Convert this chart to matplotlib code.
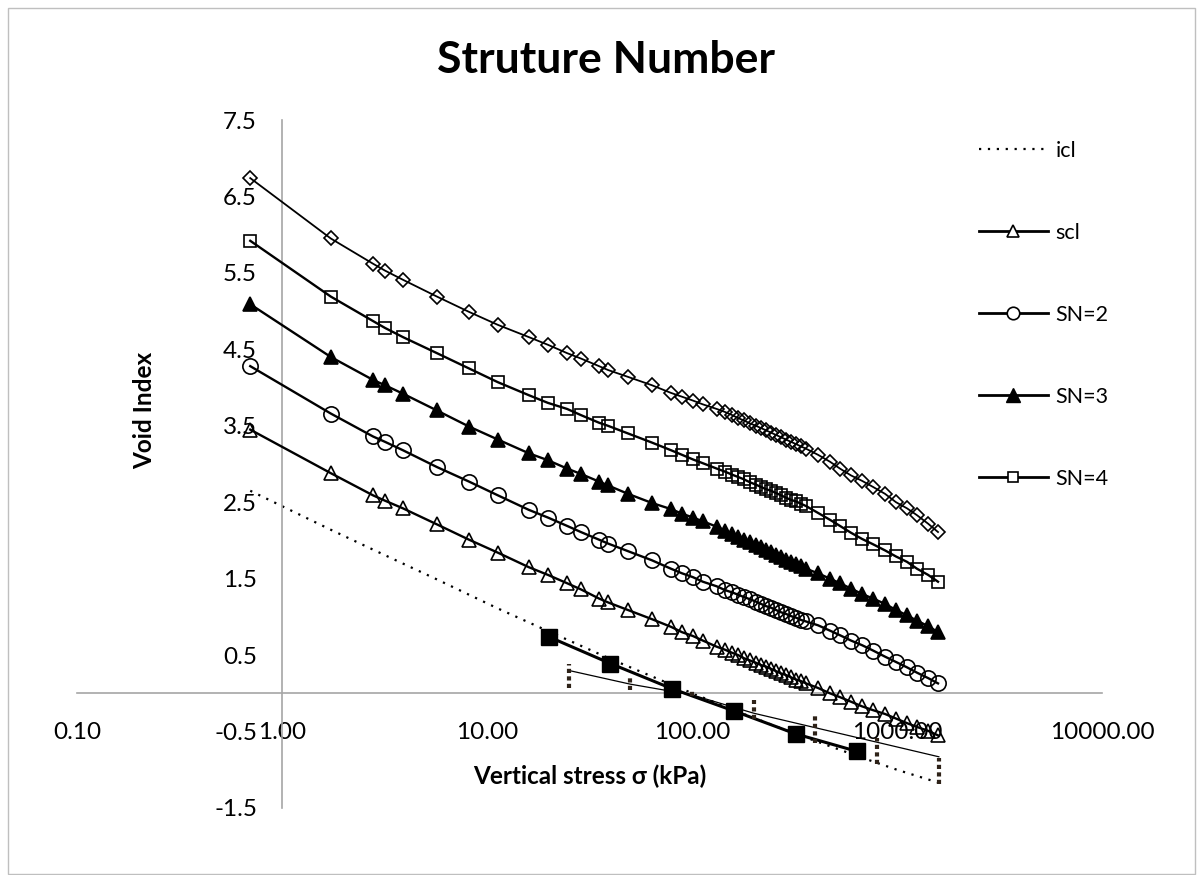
import matplotlib
matplotlib.use("Agg")
import matplotlib.pyplot as plt
from matplotlib.lines import Line2D
from matplotlib.patches import Rectangle
from matplotlib.ticker import FixedLocator, FixedFormatter

plt.rcParams['font.family'] = ['Lato', 'DejaVu Sans']

# ---------------- data ----------------
stress = [0.70, 1.73, 2.78, 3.18, 3.89, 5.70, 8.17, 11.3, 16.0, 19.8,
          24.6, 28.7, 35.2, 38.9, 48.7, 63.8, 79.0, 89.4, 101, 113,
          132, 145, 157, 168, 179, 192, 205, 217, 230, 243,
          257, 272, 287, 304, 322, 340, 360,
          412, 471, 527, 597, 675, 764, 874, 989, 1119, 1252, 1417, 1585]

sn5 = [6.74, 5.95, 5.62, 5.53, 5.41, 5.19, 4.99, 4.82, 4.66, 4.56,
       4.45, 4.38, 4.28, 4.23, 4.14, 4.03, 3.93, 3.88, 3.83, 3.78,
       3.72, 3.68, 3.64, 3.60, 3.57, 3.53, 3.50, 3.47, 3.44, 3.41,
       3.38, 3.35, 3.32, 3.29, 3.26, 3.23, 3.20,
       3.12, 3.03, 2.94, 2.85, 2.78, 2.70, 2.61, 2.50, 2.42, 2.33, 2.22, 2.11]

sn4 = [5.92, 5.19, 4.87, 4.78, 4.66, 4.45, 4.25, 4.07, 3.90, 3.80,
       3.72, 3.64, 3.54, 3.50, 3.40, 3.28, 3.18, 3.12, 3.06, 3.01,
       2.94, 2.90, 2.86, 2.83, 2.80, 2.76, 2.73, 2.70, 2.67, 2.65,
       2.62, 2.59, 2.56, 2.53, 2.51, 2.48, 2.45,
       2.36, 2.27, 2.19, 2.10, 2.02, 1.95, 1.87, 1.79, 1.72, 1.63, 1.55, 1.46]

sn3 = [5.09, 4.40, 4.10, 4.03, 3.92, 3.70, 3.49, 3.32, 3.14, 3.05,
       2.94, 2.87, 2.77, 2.72, 2.61, 2.49, 2.41, 2.35, 2.30, 2.25,
       2.18, 2.13, 2.09, 2.05, 2.01, 1.98, 1.94, 1.91, 1.88, 1.85,
       1.81, 1.78, 1.75, 1.72, 1.69, 1.66, 1.63,
       1.57, 1.50, 1.44, 1.37, 1.30, 1.24, 1.17, 1.09, 1.02, 0.95, 0.88, 0.80]

sn2 = [4.28, 3.66, 3.36, 3.29, 3.18, 2.96, 2.77, 2.59, 2.40, 2.30,
       2.19, 2.11, 2.01, 1.96, 1.86, 1.74, 1.63, 1.57, 1.52, 1.46,
       1.40, 1.35, 1.32, 1.29, 1.26, 1.23, 1.20, 1.17, 1.14, 1.12,
       1.09, 1.06, 1.04, 1.01, 0.99, 0.96, 0.94,
       0.89, 0.82, 0.76, 0.69, 0.63, 0.56, 0.48, 0.41, 0.34, 0.27, 0.20, 0.13]

scl = [3.45, 2.88, 2.59, 2.52, 2.42, 2.21, 2.01, 1.84, 1.65, 1.55,
       1.44, 1.36, 1.24, 1.19, 1.09, 0.97, 0.87, 0.80, 0.75, 0.69,
       0.61, 0.57, 0.53, 0.50, 0.46, 0.43, 0.40, 0.37, 0.35, 0.32,
       0.29, 0.26, 0.24, 0.21, 0.18, 0.16, 0.13,
       0.07, 0.00, -0.05, -0.11, -0.17, -0.22, -0.27, -0.33, -0.39, -0.44, -0.49, -0.55]

icl_stress = [0.7, 1.73, 2.78, 5.7, 11.3, 20, 40, 80, 160, 320, 640, 1000, 1600]
icl = [2.65, 2.14, 1.88, 1.49, 1.11, 0.81, 0.45, 0.11, -0.22, -0.53, -0.82, -1.00, -1.17]

test_stress = [20, 40, 80, 160, 320, 640]
test_void = [0.74, 0.39, 0.06, -0.23, -0.53, -0.76]

fit_stress = [25, 50, 100, 200, 400, 800, 1600]
fit_void = [0.30, 0.12, -0.02, -0.26, -0.45, -0.64, -0.83]
range_high = [0.39, 0.24, 0.04, -0.09, -0.26, -0.58, -0.84]
range_low = [0.07, 0.05, -0.04, -0.34, -0.65, -0.92, -1.18]

x_ticks = [0.1, 1, 10, 100, 1000, 10000]
x_labels = ['0.10', '1.00', '10.00', '100.00', '1000.00', '10000.00']
y_ticks = [-1.5, -0.5, 0.5, 1.5, 2.5, 3.5, 4.5, 5.5, 6.5, 7.5]
y_labels = ['-1.5', '-0.5', '0.5', '1.5', '2.5', '3.5', '4.5', '5.5', '6.5', '7.5']

# ---------------- figure ----------------
W, H = 1203, 875
fig = plt.figure(figsize=(W / 100, H / 100), dpi=100)
ax = fig.add_axes([77 / W, 67 / H, 1025 / W, 688 / H])
ax.set_xscale('log')
ax.set_xlim(0.1, 10000)
ax.set_ylim(-1.5, 7.5)

grey = '#A6A6A6'
for s in ['top', 'right']:
    ax.spines[s].set_visible(False)
ax.spines['left'].set_position(('data', 1))
ax.spines['bottom'].set_position(('data', 0))
for s in ['left', 'bottom']:
    ax.spines[s].set_color(grey)
    ax.spines[s].set_linewidth(1.2)

ax.xaxis.set_major_locator(FixedLocator(x_ticks))
ax.xaxis.set_major_formatter(FixedFormatter(x_labels))
ax.xaxis.set_minor_locator(FixedLocator([]))
ax.yaxis.set_major_locator(FixedLocator(y_ticks))
ax.yaxis.set_major_formatter(FixedFormatter(y_labels))
ax.tick_params(axis='both', length=0, labelsize=17.5, colors='black')
ax.tick_params(axis='x', pad=20.5)
ax.tick_params(axis='y', pad=18)
ax.patch.set_alpha(0)

k = 'black'
mew = 1.2
ax.plot(icl_stress, icl, color=k, lw=1.6, linestyle=(0, (1, 3)), zorder=2)
ax.plot(stress, scl, color=k, lw=1.7, marker='^', ms=10, mfc='none', mec=k, mew=mew, zorder=3)
ax.plot(stress, sn2, color=k, lw=1.7, marker='o', ms=11, mfc='none', mec=k, mew=mew, zorder=3)
ax.plot(stress, sn3, color=k, lw=1.7, marker='^', ms=10, mfc=k, mec=k, mew=mew, zorder=3)
ax.plot(stress, sn4, color=k, lw=1.7, marker='s', ms=8, mfc='none', mec=k, mew=mew, zorder=3)
ax.plot(stress, sn5, color=k, lw=1.3, marker='D', ms=7.5, mfc='none', mec=k, mew=mew, zorder=3)
ax.plot(test_stress, test_void, color=k, lw=2.2, marker='s', ms=11.5, mfc=k, mec=k, zorder=4)
ax.plot(fit_stress, fit_void, color=k, lw=0.9, zorder=4)
ax.vlines(fit_stress, range_low, range_high, colors='#2e2218', lw=3,
          linestyles=[(0, (1, 0.8))], zorder=4)

# legend
handles = [
    Line2D([], [], color=k, lw=1.6, linestyle=(0, (1, 3))),
    Line2D([], [], color=k, lw=2, marker='^', ms=9, mfc='white', mec=k, mew=1.2),
    Line2D([], [], color=k, lw=2, marker='o', ms=9, mfc='white', mec=k, mew=1.2),
    Line2D([], [], color=k, lw=2, marker='^', ms=10, mfc=k, mec=k),
    Line2D([], [], color=k, lw=2, marker='s', ms=7, mfc='white', mec=k, mew=1.2),
]
labels = ['icl', 'scl', 'SN=2', 'SN=3', 'SN=4']
fig.legend(handles, labels, loc='upper left', bbox_to_anchor=(979 / W, 1 - 141 / H),
           frameon=False, fontsize=15.5, handlelength=3.2, handletextpad=0.35,
           labelspacing=2.88, borderpad=0, borderaxespad=0)

# texts
fig.text(606 / W, 1 - 60 / H, 'Struture Number', ha='center', va='center',
         fontsize=32, fontweight='bold')
fig.text(145 / W, 1 - 410 / H, 'Void Index', ha='center', va='center',
         rotation=90, fontsize=17.5, fontweight='bold')
fig.text(590 / W, 1 - 776 / H, 'Vertical stress σ (kPa)', ha='center', va='center',
         fontsize=17.5, fontweight='bold')

# chart border
fig.add_artist(Rectangle((8 / W, 1 / H), 1187 / W, 866 / H, transform=fig.transFigure,
                         fill=False, ec='#BFBFBF', lw=1))

fig.savefig('out.png', dpi=100)
